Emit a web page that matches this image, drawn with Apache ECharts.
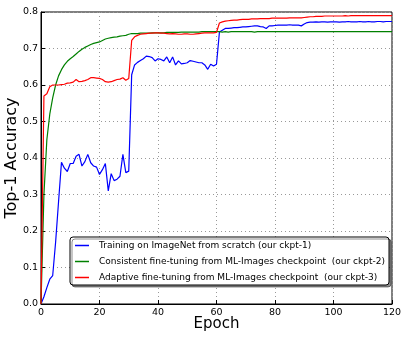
<!DOCTYPE html>
<html>
<head>
<meta charset="utf-8">
<script src="https://cdn.jsdelivr.net/npm/echarts@6/dist/echarts.min.js"></script>
<style>
  html, body { margin: 0; padding: 0; background: #fff; }
  #chart { width: 407px; height: 347px; }
</style>
</head>
<body>
<div id="chart"></div>
<script>
// epochs 0..120
const epochs = [
    0, 1, 2, 3, 4, 5, 6, 7, 8, 9, 10, 11, 12, 13, 14, 15, 16, 17, 18, 19,
    20, 21, 22, 23, 24, 25, 26, 27, 28, 29, 30, 31, 32, 33, 34, 35, 36, 37, 38, 39,
    40, 41, 42, 43, 44, 45, 46, 47, 48, 49, 50, 51, 52, 53, 54, 55, 56, 57, 58, 59,
    60, 61, 62, 63, 64, 65, 66, 67, 68, 69, 70, 71, 72, 73, 74, 75, 76, 77, 78, 79,
    80, 81, 82, 83, 84, 85, 86, 87, 88, 89, 90, 91, 92, 93, 94, 95, 96, 97, 98, 99,
    100, 101, 102, 103, 104, 105, 106, 107, 108, 109, 110, 111, 112, 113, 114, 115, 116, 117, 118, 119,
    120
];

// Training on ImageNet from scratch (ckpt-1)
const scratchAcc = [
    0.000, 0.020, 0.045, 0.068, 0.078, 0.170, 0.280, 0.388, 0.372, 0.363,
    0.385, 0.385, 0.405, 0.410, 0.378, 0.390, 0.410, 0.387, 0.378, 0.375,
    0.355, 0.368, 0.385, 0.310, 0.357, 0.338, 0.342, 0.350, 0.410, 0.360,
    0.364, 0.628, 0.655, 0.662, 0.667, 0.672, 0.679, 0.678, 0.675, 0.666,
    0.672, 0.670, 0.666, 0.677, 0.661, 0.677, 0.655, 0.666, 0.658, 0.659,
    0.661, 0.667, 0.665, 0.663, 0.661, 0.661, 0.655, 0.643, 0.657, 0.652,
    0.657, 0.745, 0.750, 0.755, 0.755, 0.756, 0.757, 0.757, 0.758, 0.759,
    0.759, 0.760, 0.761, 0.762, 0.762, 0.760, 0.759, 0.755, 0.762, 0.762,
    0.763, 0.764, 0.764, 0.764, 0.764, 0.765, 0.764, 0.764, 0.764, 0.762,
    0.767, 0.771, 0.772, 0.772, 0.773, 0.772, 0.773, 0.773, 0.772, 0.773,
    0.773, 0.773, 0.772, 0.773, 0.773, 0.774, 0.773, 0.773, 0.773, 0.774,
    0.773, 0.773, 0.774, 0.773, 0.773, 0.774, 0.774, 0.773, 0.774, 0.774,
    0.774
];

// Consistent fine-tuning from ML-Images checkpoint (ckpt-2)
const consistentAcc = [
    0.000, 0.300, 0.450, 0.520, 0.565, 0.600, 0.625, 0.642, 0.655, 0.665,
    0.672, 0.678, 0.685, 0.692, 0.698, 0.703, 0.707, 0.711, 0.714, 0.716,
    0.718, 0.722, 0.726, 0.728, 0.730, 0.731, 0.732, 0.734, 0.735, 0.736,
    0.739, 0.741, 0.741, 0.741, 0.742, 0.742, 0.742, 0.742, 0.743, 0.743,
    0.743, 0.743, 0.743, 0.744, 0.744, 0.744, 0.744, 0.744, 0.745, 0.745,
    0.745, 0.745, 0.745, 0.745, 0.745, 0.746, 0.746, 0.746, 0.746, 0.746,
    0.746, 0.746, 0.745, 0.746, 0.745, 0.746, 0.746, 0.746, 0.746, 0.746,
    0.746, 0.746, 0.746, 0.745, 0.746, 0.746, 0.746, 0.746, 0.746, 0.746,
    0.746, 0.746, 0.746, 0.746, 0.746, 0.746, 0.746, 0.746, 0.746, 0.746,
    0.746, 0.746, 0.746, 0.746, 0.746, 0.746, 0.746, 0.746, 0.746, 0.746,
    0.746, 0.746, 0.746, 0.746, 0.746, 0.746, 0.746, 0.746, 0.746, 0.746,
    0.746, 0.746, 0.746, 0.746, 0.746, 0.746, 0.746, 0.746, 0.746, 0.746,
    0.746
];

// Adaptive fine-tuning from ML-Images checkpoint (ckpt-3)
const adaptiveAcc = [
    0.000, 0.570, 0.576, 0.595, 0.600, 0.600, 0.600, 0.601, 0.602, 0.605,
    0.606, 0.608, 0.615, 0.609, 0.610, 0.612, 0.615, 0.620, 0.620, 0.619,
    0.618, 0.615, 0.609, 0.608, 0.609, 0.612, 0.615, 0.616, 0.620, 0.613,
    0.618, 0.722, 0.732, 0.736, 0.739, 0.740, 0.741, 0.742, 0.742, 0.743,
    0.743, 0.742, 0.742, 0.741, 0.740, 0.741, 0.740, 0.739, 0.739, 0.740,
    0.740, 0.739, 0.739, 0.740, 0.741, 0.742, 0.743, 0.743, 0.743, 0.743,
    0.744, 0.770, 0.773, 0.775, 0.776, 0.777, 0.778, 0.778, 0.779, 0.780,
    0.780, 0.780, 0.781, 0.781, 0.781, 0.782, 0.782, 0.782, 0.782, 0.783,
    0.783, 0.783, 0.783, 0.783, 0.783, 0.784, 0.784, 0.784, 0.784, 0.784,
    0.785, 0.786, 0.787, 0.787, 0.788, 0.788, 0.788, 0.789, 0.789, 0.789,
    0.789, 0.789, 0.789, 0.789, 0.790, 0.789, 0.790, 0.790, 0.790, 0.790,
    0.790, 0.790, 0.790, 0.790, 0.790, 0.790, 0.790, 0.790, 0.790, 0.790,
    0.790
];

const xTicks = { min: 0, max: 120, interval: 20 };
const yTicks = { min: 0, max: 0.8, interval: 0.1 };

const seriesDefs = [
    { name: 'Training on ImageNet from scratch (our ckpt-1)', values: scratchAcc, color: '#0000ff' },
    { name: 'Consistent fine-tuning from ML-Images checkpoint  (our ckpt-2)', values: consistentAcc, color: '#008000' },
    { name: 'Adaptive fine-tuning from ML-Images checkpoint  (our ckpt-3)', values: adaptiveAcc, color: '#ff0000' }
];

const chart = echarts.init(document.getElementById('chart'), null, { renderer: 'canvas' });

const font = 'DejaVu Sans';
const gridLine = { show: true, lineStyle: { color: '#999', type: [1, 3], width: 1 } };

const option = {
    backgroundColor: '#fff',
    animation: false,
    textStyle: { fontFamily: font, color: '#000' },
    grid: {
        left: 41, right: 15, top: 12, bottom: 43,
        outerBoundsMode: 'none',
        show: true, borderColor: '#000', borderWidth: 1
    },
    xAxis: {
        type: 'value',
        min: xTicks.min, max: xTicks.max, interval: xTicks.interval,
        name: 'Epoch',
        nameLocation: 'middle',
        nameGap: 13,
        nameMoveOverlap: false,
        nameTextStyle: { fontSize: 15, fontFamily: font, color: '#000', verticalAlign: 'top' },
        axisLine: { show: true, lineStyle: { color: '#000' } },
        axisTick: { show: true, inside: true, length: 4, lineStyle: { color: '#000' } },
        axisLabel: { fontSize: 9.5, color: '#000', fontFamily: font, margin: 4 },
        splitLine: gridLine
    },
    yAxis: {
        type: 'value',
        min: yTicks.min, max: yTicks.max, interval: yTicks.interval,
        name: 'Top-1 Accuracy',
        nameLocation: 'middle',
        nameGap: 21,
        nameMoveOverlap: false,
        nameTextStyle: { fontSize: 16, fontFamily: font, color: '#000' },
        axisLine: { show: true, lineStyle: { color: '#000' } },
        axisTick: { show: true, inside: true, length: 4, lineStyle: { color: '#000' } },
        axisLabel: { fontSize: 9.5, color: '#000', fontFamily: font, margin: 3, formatter: v => v.toFixed(1) },
        splitLine: gridLine
    },
    legend: {
        orient: 'vertical',
        left: 70,
        top: 237,
        icon: 'rect',
        itemWidth: 14,
        itemHeight: 1.5,
        itemGap: 5,
        padding: [3, 4, 2, 5],
        backgroundColor: '#fff',
        borderColor: '#000',
        borderWidth: 1,
        borderRadius: 3,
        shadowColor: 'rgba(0,0,0,0.45)',
        shadowOffsetX: 2,
        shadowOffsetY: 2,
        shadowBlur: 0,
        textStyle: { fontSize: 9, fontFamily: font, color: '#000', padding: [0, 0, 0, 5], lineHeight: 11 },
        data: seriesDefs.map(s => s.name)
    },
    series: seriesDefs.map(s => ({
        name: s.name,
        type: 'line',
        showSymbol: false,
        symbol: 'none',
        color: s.color,
        lineStyle: { color: s.color, width: 1.2 },
        data: epochs.map((e, i) => [e, s.values[i]])
    }))
};

chart.setOption(option);
</script>
</body>
</html>
